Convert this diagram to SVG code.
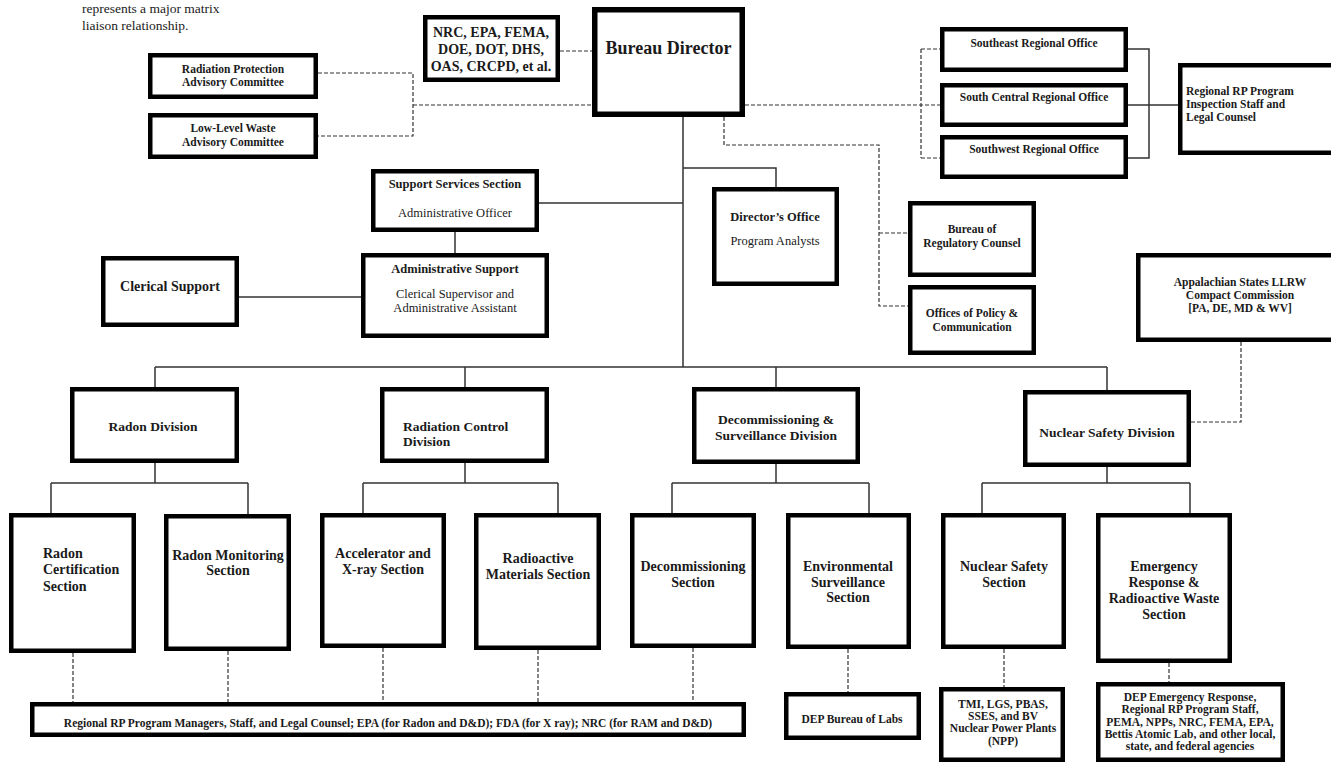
<svg xmlns="http://www.w3.org/2000/svg" width="1331" height="763" viewBox="0 0 1331 763">
<style>
.box{fill:#fff;stroke:#000;stroke-width:4.5}
.big{stroke-width:5.5}
.t{font-family:"Liberation Serif","Times New Roman",serif;font-weight:bold;fill:#1a1a1a;text-anchor:middle}
.r{font-weight:normal}
.l{text-anchor:start}
.s11{font-size:11.5px}
.s12{font-size:12.5px}
.s13{font-size:13.5px}
.s14{font-size:14px}
.conn{stroke:#333;stroke-width:1.5;fill:none}
.dash{stroke:#333;stroke-width:1.2;stroke-dasharray:4 2;fill:none}
</style>
<rect width="1331" height="763" fill="#fff"/>
<g id="legend">
<text class="t r l" style="font-size:13.5px" x="82" y="13">represents a major matrix</text>
<text class="t r l" style="font-size:13.5px" x="82" y="30">liaison relationship.</text>
</g>
<g id="connectors">
<!-- solid hierarchy -->
<path class="conn" d="M683,117 V367 M155,367 H1107 M155,367 V389 M465,367 V389 M776,367 V389 M1107,367 V392"/>
<path class="conn" d="M539,203 H683 M455,232 V255 M239,297 H363 M683,168 H776 V189"/>
<path class="conn" d="M155,463 V483 M51,483 H248 M51,483 V515 M248,483 V516"/>
<path class="conn" d="M465,463 V483 M363,483 H558 M363,483 V515 M558,483 V515"/>
<path class="conn" d="M776,464 V483 M672,483 H869 M672,483 V515 M869,483 V515"/>
<path class="conn" d="M1107,467 V483 M982,483 H1190 M982,483 V515 M1190,483 V515"/>
<path class="conn" d="M1128,49 H1149 V158 H1128 M1128,105 H1180"/>
<!-- dashed liaison -->
<path class="dash" d="M318,73 H413 V136 H318 M413,105 H592"/>
<path class="dash" d="M560,51 H592"/>
<path class="dash" d="M745,105 H940 M921,49 V158 M921,49 H940 M921,158 H940"/>
<path class="dash" d="M724,117 V145 H879 V306 H908 M879,233 H908"/>
<path class="dash" d="M1241,342 V422 H1191"/>
<path class="dash" d="M73,653 V702 M228,651 V702 M383,648 V702 M538,650 V702 M693,648 V702"/>
<path class="dash" d="M848,649 V692 M1004,649 V687 M1169,663 V682"/>
</g>
<g id="rpac"><rect class="box" x="150.25" y="55.25" width="165.5" height="41.5"/>
<text class="t s11" x="233" y="73">Radiation Protection</text><text class="t s11" x="233" y="86">Advisory Committee</text></g>
<g id="llw"><rect class="box" x="150.25" y="115.25" width="165.5" height="41.5"/>
<text class="t s11" x="233" y="132">Low-Level Waste</text><text class="t s11" x="233" y="146">Advisory Committee</text></g>
<g id="agencies"><rect class="box" x="425.25" y="17.25" width="132.5" height="62.5"/>
<text class="t s14" x="491" y="37">NRC, EPA, FEMA,</text><text class="t s14" x="491" y="54">DOE, DOT, DHS,</text><text class="t s14" x="491" y="71">OAS, CRCPD, et al.</text></g>
<g id="bureau-director"><rect class="box big" x="594.75" y="9.75" width="147.5" height="104.5"/>
<text class="t" style="font-size:18px" x="668.5" y="54">Bureau Director</text></g>
<g id="southeast"><rect class="box" x="942.25" y="29.25" width="183.5" height="40.5"/>
<text class="t s11" x="1034" y="47">Southeast Regional Office</text></g>
<g id="southcentral"><rect class="box" x="942.25" y="85.25" width="183.5" height="39.5"/>
<text class="t s11" x="1034" y="101">South Central Regional Office</text></g>
<g id="southwest"><rect class="box" x="942.25" y="137.25" width="183.5" height="39.5"/>
<text class="t s11" x="1034" y="153">Southwest Regional Office</text></g>
<g id="regional-rp"><rect class="box" x="1180.25" y="65.25" width="160" height="87.5"/>
<text class="t s11 l" x="1186" y="95">Regional RP Program</text><text class="t s11 l" x="1186" y="108">Inspection Staff and</text><text class="t s11 l" x="1186" y="121">Legal Counsel</text></g>
<g id="support-services"><rect class="box" x="373.25" y="171.25" width="163.5" height="58.5"/>
<text class="t s12" x="455" y="188">Support Services Section</text><text class="t s12 r" x="455" y="217">Administrative Officer</text></g>
<g id="admin-support"><rect class="box" x="363.25" y="255.25" width="183.5" height="80.5"/>
<text class="t s12" x="455" y="273">Administrative Support</text><text class="t s12 r" x="455" y="298">Clerical Supervisor and</text><text class="t s12 r" x="455" y="312">Administrative Assistant</text></g>
<g id="clerical"><rect class="box" x="103.25" y="258.25" width="133.5" height="66.5"/>
<text class="t s14" x="170" y="291">Clerical Support</text></g>
<g id="directors-office"><rect class="box" x="714.25" y="189.25" width="122.5" height="94.5"/>
<text class="t s12" x="775" y="221">Director’s Office</text><text class="t s12 r" x="775" y="245">Program Analysts</text></g>
<g id="regulatory-counsel"><rect class="box" x="910.25" y="203.25" width="123.5" height="71.5"/>
<text class="t s11" x="972" y="233">Bureau of</text><text class="t s11" x="972" y="247">Regulatory Counsel</text></g>
<g id="policy"><rect class="box" x="910.25" y="287.25" width="123.5" height="65.5"/>
<text class="t s11" x="972" y="317">Offices of Policy &amp;</text><text class="t s11" x="972" y="331">Communication</text></g>
<g id="appalachian"><rect class="box" x="1138.25" y="255.25" width="200" height="84.5"/>
<text class="t s11" x="1240" y="286">Appalachian States LLRW</text><text class="t s11" x="1240" y="299">Compact Commission</text><text class="t s11" x="1240" y="312">[PA, DE, MD &amp; WV]</text></g>
<g id="radon-division"><rect class="box" x="72.25" y="389.25" width="164.5" height="71.5"/>
<text class="t s13" x="153" y="431">Radon Division</text></g>
<g id="radiation-control-division"><rect class="box" x="382.25" y="389.25" width="164.5" height="71.5"/>
<text class="t s13 l" x="403" y="431">Radiation Control</text><text class="t s13 l" x="403" y="446">Division</text></g>
<g id="decommissioning-division"><rect class="box" x="694.25" y="389.25" width="163.5" height="72.5"/>
<text class="t s13" x="776" y="424">Decommissioning &amp;</text><text class="t s13" x="776" y="440">Surveillance Division</text></g>
<g id="nuclear-safety-division"><rect class="box" x="1025.25" y="392.25" width="163.5" height="72.5"/>
<text class="t s13" x="1107" y="437">Nuclear Safety Division</text></g>
<g id="radon-cert"><rect class="box" x="11.25" y="515.25" width="122.5" height="135.5"/>
<text class="t s14 l" x="43" y="558">Radon</text><text class="t s14 l" x="43" y="574">Certification</text><text class="t s14 l" x="43" y="591">Section</text></g>
<g id="radon-mon"><rect class="box" x="166.25" y="516.25" width="122.5" height="132.5"/>
<text class="t s14" x="228" y="560">Radon Monitoring</text><text class="t s14" x="228" y="575">Section</text></g>
<g id="accelerator"><rect class="box" x="322.25" y="515.25" width="121.5" height="130.5"/>
<text class="t s14" x="383" y="558">Accelerator and</text><text class="t s14" x="383" y="574">X-ray Section</text></g>
<g id="radioactive-materials"><rect class="box" x="476.25" y="515.25" width="122.5" height="132.5"/>
<text class="t s14" x="538" y="563">Radioactive</text><text class="t s14" x="538" y="579">Materials Section</text></g>
<g id="decommissioning"><rect class="box" x="632.25" y="515.25" width="121.5" height="130.5"/>
<text class="t s14" x="693" y="571">Decommissioning</text><text class="t s14" x="693" y="587">Section</text></g>
<g id="env-surveillance"><rect class="box" x="788.25" y="515.25" width="120.5" height="131.5"/>
<text class="t s14" x="848" y="571">Environmental</text><text class="t s14" x="848" y="587">Surveillance</text><text class="t s14" x="848" y="602">Section</text></g>
<g id="nuclear-safety"><rect class="box" x="943.25" y="515.25" width="120.5" height="131.5"/>
<text class="t s14" x="1004" y="571">Nuclear Safety</text><text class="t s14" x="1004" y="587">Section</text></g>
<g id="emergency"><rect class="box" x="1098.25" y="515.25" width="131.5" height="145.5"/>
<text class="t s14" x="1164" y="571">Emergency</text><text class="t s14" x="1164" y="587">Response &amp;</text><text class="t s14" x="1164" y="603">Radioactive Waste</text><text class="t s14" x="1164" y="619">Section</text></g>
<g id="regional-managers"><rect class="box" x="32.25" y="704.25" width="711.5" height="30.5"/>
<text class="t s11" x="388" y="727">Regional RP Program Managers, Staff, and Legal Counsel; EPA (for Radon and D&amp;D); FDA (for X ray); NRC (for RAM and D&amp;D)</text></g>
<g id="labs"><rect class="box" x="786.25" y="694.25" width="132.5" height="43.5"/>
<text class="t s11" x="852" y="723">DEP Bureau of Labs</text></g>
<g id="npp"><rect class="box" x="941.25" y="689.25" width="121.5" height="70.5"/>
<text class="t s11" x="1003" y="708">TMI, LGS, PBAS,</text><text class="t s11" x="1003" y="720">SSES, and BV</text><text class="t s11" x="1003" y="732">Nuclear Power Plants</text><text class="t s11" x="1003" y="745">(NPP)</text></g>
<g id="dep-emergency"><rect class="box" x="1098.25" y="684.25" width="184.5" height="75.5"/>
<text class="t s11" x="1190" y="701">DEP Emergency Response,</text><text class="t s11" x="1190" y="713">Regional RP Program Staff,</text><text class="t s11" x="1190" y="726">PEMA, NPPs, NRC, FEMA, EPA,</text><text class="t s11" x="1190" y="738">Bettis Atomic Lab, and other local,</text><text class="t s11" x="1190" y="750">state, and federal agencies</text></g>
</svg>
